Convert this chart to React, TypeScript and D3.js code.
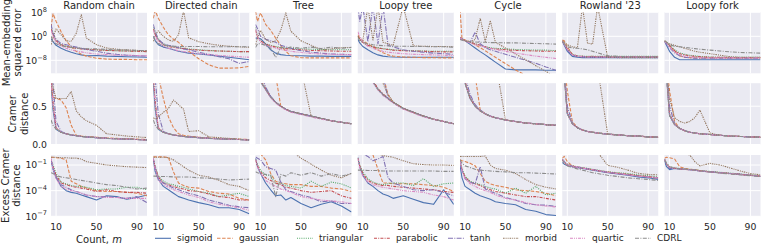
import React from 'react';
import * as d3 from 'd3';

// ---------------- data ----------------
const counts = [5, 7, 10, 15, 20, 25, 30, 35, 40, 50, 60, 70, 80, 90, 100];
const seriesNames = ['sigmoid', 'gaussian', 'triangular', 'parabolic', 'tanh', 'morbid', 'quartic', 'CDRL'];
const panelTitles = ['Random chain', 'Directed chain', 'Tree', 'Loopy tree', 'Cycle', "Rowland '23", 'Loopy fork'];
const xTicks = [10, 50, 90];
const mseTickExps = [8, 0, -8];
const cramerTicks = [0.0, 0.5];
const excessTickExps = [-1, -4, -7];

// Row 1: mean-embedding squared error (log10 of value), series order = seriesNames
const mseRandomChain = [
  [-0.8, -1.8, -3, -4, -4.7, -5.3, -5.8, -6.2, -6.5, -6.4, -6.6, -6.7, -6.8, -6.9, -7],
  [3, 7.5, 5, 1.5, -1.5, -3.5, -5, -6, -6.6, -7.3, -7.6, -7.7, -7.7, -7.8, -7.8],
  [3, 1, -1.5, -2.8, -3.3, -3.6, -3.9, -4.1, -4.3, -4.5, -4.7, -4.8, -4.9, -5, -5.1],
  [2.5, 0.5, -1.5, -2.8, -3.4, -3.7, -4, -4.2, -4.3, -4.5, -4.7, -4.8, -4.9, -5, -5.1],
  [4, 1, -1, -2.4, -2.8, -3.2, -3.6, -4, -4.4, -5, -5.6, -6, -6.3, -6.5, -6.6],
  [-2.8, -0.5, 2.5, 0.5, -1.5, -1.7, 1, 7.2, -0.6, -2.8, -3.9, -4.3, -4.5, -4.7, -4.8],
  [2, 0, -2, -3.3, -4, -4.5, -4.9, -5.2, -5.5, -5.9, -6.1, -6.3, -6.3, -6.4, -6.5],
  [0, -1.5, -2.5, -3.2, -3.5, -3.7, -3.9, -4, -4.1, -4.2, -4.4, -4.5, -4.6, -4.7, -4.8],
];
const mseDirectedChain = [
  [0, -1.5, -2.8, -3.6, -4, -4.5, -5, -5.3, -5.6, -5.9, -6.2, -6.6, -7, -7.4, -7.8],
  [6, 8.5, 6, 3, 0.5, -1, -2, -3.5, -5, -7.5, -9.5, -10.6, -10.6, -10.5, -10],
  [3, 1, -1, -2.6, -3.2, -3.5, -3.8, -4, -4.2, -4.5, -4.7, -4.9, -5, -5.1, -5.1],
  [2.5, 0.5, -1.2, -2.8, -3.4, -3.7, -3.9, -4.1, -4.3, -4.6, -4.8, -4.9, -5, -5.1, -5.1],
  [4, 1.5, -1, -2.5, -3, -3.3, -3.8, -4.2, -4.5, -5.3, -6, -6.8, -7.5, -9, -8.4],
  [-1.7, 0.5, 1.8, 0, -1.2, -1.7, 0.5, 8.5, -0.5, -1.8, -2.5, -3, -3.3, -3.5, -3.7],
  [2, 0, -2, -3.3, -4, -4.4, -4.8, -5.1, -5.4, -5.8, -6.1, -6.4, -6.6, -6.8, -7],
  [0, -1.5, -2.5, -3, -3.2, -3.3, -3.4, -3.4, -3.4, -3.4, -3.5, -3.5, -3.5, -3.5, -3.5],
];
const mseTree = [
  [-0.6, -0.6, -0.8, -2.5, -4.5, -5.6, -6.1, -6.3, -6.4, -6.5, -6.6, -6.6, -6.7, -6.7, -6.7],
  [8.3, 5, 7.8, 4, 2, -0.6, -3, -5, -6.5, -7.1, -7.2, -7.2, -7.2, -7.2, -7.2],
  [3, 0, -1.5, -2.5, -3, -3.4, -3.7, -3.9, -4, -4.2, -4.3, -4.4, -4.5, -4.5, -4.5],
  [2, -0.5, -1.5, -2.6, -3.2, -3.6, -3.9, -4.1, -4.3, -4.5, -4.7, -4.8, -4.9, -5, -5],
  [3.9, 2.5, 0, -1, -1.5, -2, -3, -3.5, -4, -4.8, -5.3, -5.6, -5.9, -6, -6.1],
  [-2.8, -0.5, 2, -1, -2, -1.5, 2, 7.8, 1.7, -1.5, -3, -4.5, -4.2, -3.8, -3.7],
  [2.5, 0, -2, -3, -3.5, -4, -4.4, -4.7, -5, -5.4, -5.7, -5.9, -6, -6.1, -6.1],
  [-3.7, -2.5, -2.5, -3, -4, -7, -3.7, -4, -3.6, -4, -3.6, -4.1, -3.6, -4, -3.7],
];
const mseLoopyTree = [
  [-1, -2.2, -3.4, -4.5, -5.5, -6.2, -6.6, -6.8, -6.9, -7, -7, -7, -7, -7, -7],
  [0.5, -0.5, -1.5, -2.5, -3.5, -4.5, -5.5, -6.2, -6.6, -6.9, -7, -7.1, -7.1, -7.2, -7.2],
  [0, -1, -2, -3, -3.5, -3.8, -4.1, -4.3, -4.5, -4.7, -4.8, -4.9, -5, -5, -5],
  [0, -1, -2, -3, -3.5, -3.9, -4.2, -4.4, -4.6, -4.8, -4.9, -5, -5.1, -5.2, -5.2],
  [10, 5, 10, -1.8, 10, -2.5, 10, -3, -3.5, -4.5, -5, -5.3, -5.6, -5.8, -6],
  [0, -1, -1.5, 10, -1.5, 10, -2, -2.5, -3, 10, -3.2, -3.3, -3.4, -3.4, -3.5],
  [1.5, 0, -2, -3.3, -4, -4.6, -5, -5.3, -5.5, -5.8, -6, -6.1, -6.2, -6.3, -6.4],
  [-0.5, -1.5, -2, -2.5, -2.8, -3, -3.1, -3.2, -3.3, -3.3, -3.4, -3.4, -3.5, -3.5, -3.6],
];
const mseCycle = [
  [-0.3, -0.8, -1.5, -2.7, -3.9, -5.1, -6.2, -7.4, -8.6, -10.9, -11.2, -11.2, -11.2, -11.3, -11.3],
  [9, -1, -1.2, -1.8, -2.8, -3.8, -4.8, -5.9, -7, -9.1, -11.2, -13, -13, -13, -13],
  [-0.5, -1, -1.5, -2, -2.5, -3, -3.5, -3.8, -4, -4.2, -4.4, -4.5, -4.6, -4.6, -4.8],
  [-0.5, -1, -1.5, -2, -2.5, -3, -3.5, -4, -4.2, -4.5, -4.7, -4.8, -4.9, -5, -5],
  [-0.5, -1, -1.5, -2, 1.4, -2.5, -3.8, -4.5, -5, -6, -7, -8, -9, -10.2, -11.3],
  [-0.5, -1, -1.5, -2, -1, 6, -1.7, 5.2, -2, -3.9, -5.9, -7.8, -9.8, -11.7, -13.6],
  [-0.5, -1, -1.6, -2.2, -2.8, -3.2, -3.6, -4, -4.4, -5, -5.6, -6.1, -6.6, -7, -7.4],
  [-1, -1.3, -1.6, -1.8, -1.9, -2, -2, -2.1, -2.1, -2.2, -2.2, -2.3, -2.4, -2.5, -2.6],
];
const mseRowland = [
  [-1.5, -3, -5, -6.7, -7, -7.1, -7.1, -7.1, -7.1, -7.1, -7.1, -7.1, -7.1, -7.1, -7.1],
  [-1.2, -1.5, -3.5, -6, -6.6, -6.8, -6.8, -6.7, -6.8, -6.8, -6.8, -6.8, -6.8, -6.8, -6.8],
  [-1.6, -2.5, -4, -6, -6.5, -6.6, -6.7, -6.7, -6.7, -6.7, -6.7, -6.7, -6.7, -6.7, -6.7],
  [-1.7, -2.6, -4.2, -6.1, -6.6, -6.7, -6.8, -6.8, -6.8, -6.8, -6.8, -6.8, -6.8, -6.8, -6.8],
  [-1.8, -2.8, -4.5, -6.3, -6.7, -6.8, -6.9, -6.9, -6.9, -6.9, -6.9, -6.9, -6.9, -6.9, -6.9],
  [-1.5, -2, -2.8, -3.5, -3.8, 10, -2.3, -2.6, 10, -7, -7.1, -7.1, -7.1, -7.1, -7.1],
  [-1.6, -2.7, -4.3, -6.2, -6.6, -6.8, -6.9, -6.9, -6.9, -6.9, -6.9, -6.9, -6.9, -6.9, -6.9],
  [-1.7, -2.5, -3.5, -3.9, -4, -4.2, -4.5, -5, -5.5, -6.5, -6.7, -6.8, -6.8, -6.8, -6.8],
];
const mseLoopyFork = [
  [-1.7, -3, -5, -7, -7.8, -7.8, -7.8, -7.8, -7.8, -7.8, -7.8, -7.8, -7.8, -7.8, -7.8],
  [-1.5, -2, -3, -5, -6.5, -7, -7.1, -7.2, -7.2, -7.2, -7.2, -7.2, -7.2, -7.2, -7.2],
  [-1.5, -2, -3, -4.5, -5.5, -6, -6.3, -6.5, -6.7, -6.9, -7, -7, -7, -7, -7],
  [-1.6, -2.2, -3.2, -4.8, -5.8, -6.2, -6.5, -6.7, -6.8, -7, -7, -7.1, -7.1, -7.1, -7.1],
  [-1.7, -2.5, -3.8, -5.5, -6.5, -7, -7.2, -7.3, -7.3, -7.3, -7.3, -7.3, -7.3, -7.3, -7.3],
  [-1.7, -2, -2.5, -3, -3.5, -4, -4.5, -5, -5.3, -5.8, -6.3, -6.8, -7, -7, -7],
  [-1.6, -2.4, -3.6, -5.2, -6.2, -6.6, -6.9, -7, -7.1, -7.2, -7.2, -7.2, -7.2, -7.2, -7.2],
  [-1.5, -2, -2.8, -3.3, -3.5, -3.7, -3.9, -4.1, -4.3, -4.6, -4.9, -5.2, -5.4, -5.5, -5.6],
];

// Row 2: Cramer distance
const cramerRandomChain = [
  [0.8, 0.45, 0.2, 0.16, 0.14, 0.125, 0.115, 0.105, 0.1, 0.09, 0.08, 0.075, 0.07, 0.065, 0.06],
  [0.75, 0.62, 0.6, 0.58, 0.48, 0.25, 0.12, 0.11, 0.105, 0.095, 0.085, 0.08, 0.075, 0.07, 0.065],
  [0.85, 0.5, 0.21, 0.16, 0.14, 0.125, 0.115, 0.105, 0.1, 0.09, 0.08, 0.075, 0.07, 0.065, 0.06],
  [0.9, 0.55, 0.22, 0.16, 0.14, 0.125, 0.115, 0.105, 0.1, 0.09, 0.08, 0.075, 0.07, 0.065, 0.06],
  [0.95, 0.8, 0.3, 0.17, 0.14, 0.125, 0.115, 0.105, 0.1, 0.09, 0.08, 0.075, 0.07, 0.065, 0.06],
  [0.9, 0.75, 0.6, 0.6, 0.6, 0.69, 0.44, 0.36, 0.31, 0.25, 0.14, 0.125, 0.11, 0.1, 0.09],
  [0.85, 0.5, 0.21, 0.16, 0.14, 0.125, 0.115, 0.105, 0.1, 0.09, 0.08, 0.075, 0.07, 0.065, 0.06],
  [0.32, 0.25, 0.2, 0.16, 0.14, 0.125, 0.115, 0.105, 0.1, 0.09, 0.08, 0.075, 0.07, 0.065, 0.06],
];
const cramerDirectedChain = [
  [0.8, 0.45, 0.2, 0.16, 0.14, 0.125, 0.115, 0.105, 0.1, 0.09, 0.08, 0.075, 0.07, 0.065, 0.06],
  [1.0, 1.0, 0.9, 0.6, 0.36, 0.22, 0.14, 0.12, 0.11, 0.095, 0.085, 0.08, 0.075, 0.07, 0.065],
  [0.85, 0.5, 0.21, 0.16, 0.14, 0.125, 0.115, 0.105, 0.1, 0.09, 0.08, 0.075, 0.07, 0.065, 0.06],
  [0.9, 0.55, 0.22, 0.16, 0.14, 0.125, 0.115, 0.105, 0.1, 0.09, 0.08, 0.075, 0.07, 0.065, 0.06],
  [0.95, 0.85, 0.4, 0.17, 0.14, 0.125, 0.115, 0.105, 0.1, 0.09, 0.08, 0.075, 0.07, 0.065, 0.06],
  [0.35, 0.33, 0.36, 0.42, 0.47, 0.58, 0.52, 0.46, 0.17, 0.18, 0.1, 0.09, 0.08, 0.07, 0.06],
  [0.85, 0.5, 0.21, 0.16, 0.14, 0.125, 0.115, 0.105, 0.1, 0.09, 0.08, 0.075, 0.07, 0.065, 0.06],
  [0.32, 0.25, 0.2, 0.16, 0.14, 0.125, 0.115, 0.105, 0.1, 0.09, 0.08, 0.075, 0.07, 0.065, 0.06],
];
const cramerTree = [
  [1.4, 1.1, 0.82, 0.72, 0.62, 0.55, 0.5, 0.46, 0.43, 0.4, 0.37, 0.34, 0.31, 0.29, 0.27],
  [1.4, 1.3, 1.2, 1.1, 1.0, 0.9, 0.5, 0.46, 0.43, 0.4, 0.37, 0.34, 0.31, 0.29, 0.27],
  [1.4, 1.1, 0.83, 0.72, 0.62, 0.55, 0.5, 0.46, 0.43, 0.4, 0.37, 0.34, 0.31, 0.29, 0.27],
  [1.4, 1.15, 0.85, 0.73, 0.62, 0.55, 0.5, 0.46, 0.43, 0.4, 0.37, 0.34, 0.31, 0.29, 0.27],
  [1.4, 1.2, 0.95, 0.75, 0.63, 0.55, 0.5, 0.46, 0.43, 0.4, 0.37, 0.34, 0.31, 0.29, 0.27],
  [1.4, 1.3, 1.2, 1.2, 1.2, 1.2, 1.2, 1.2, 1.2, 1.0, 0.37, 0.34, 0.31, 0.29, 0.27],
  [1.4, 1.1, 0.82, 0.71, 0.61, 0.54, 0.49, 0.45, 0.42, 0.39, 0.36, 0.33, 0.31, 0.29, 0.27],
  [1.4, 1.1, 0.82, 0.72, 0.62, 0.55, 0.5, 0.46, 0.43, 0.4, 0.37, 0.34, 0.31, 0.29, 0.27],
];
const cramerLoopyTree = [
  [1.4, 1.25, 1.05, 0.92, 0.82, 0.72, 0.65, 0.6, 0.55, 0.47, 0.42, 0.37, 0.33, 0.3, 0.27],
  [1.4, 1.4, 1.3, 1.2, 1.1, 1.0, 0.9, 0.65, 0.55, 0.47, 0.42, 0.37, 0.33, 0.3, 0.27],
  [1.4, 1.25, 1.05, 0.92, 0.82, 0.72, 0.65, 0.6, 0.55, 0.47, 0.42, 0.37, 0.33, 0.3, 0.27],
  [1.4, 1.25, 1.05, 0.92, 0.83, 0.73, 0.66, 0.6, 0.55, 0.47, 0.42, 0.37, 0.33, 0.3, 0.27],
  [1.4, 1.4, 1.3, 1.2, 1.1, 1.0, 0.9, 0.6, 0.55, 0.47, 0.42, 0.37, 0.33, 0.3, 0.27],
  [1.4, 1.3, 1.2, 1.1, 1.0, 0.9, 0.8, 0.65, 0.56, 0.47, 0.42, 0.37, 0.33, 0.3, 0.27],
  [1.4, 1.25, 1.05, 0.91, 0.81, 0.71, 0.64, 0.59, 0.54, 0.46, 0.41, 0.36, 0.33, 0.3, 0.27],
  [1.4, 1.25, 1.05, 0.92, 0.82, 0.72, 0.65, 0.6, 0.55, 0.47, 0.42, 0.37, 0.33, 0.3, 0.27],
];
const cramerCycle = [
  [1.3, 1.0, 0.8, 0.6, 0.5, 0.44, 0.4, 0.37, 0.35, 0.32, 0.3, 0.28, 0.27, 0.26, 0.25],
  [1.3, 1.2, 1.1, 1.0, 0.9, 0.45, 0.4, 0.37, 0.35, 0.32, 0.3, 0.28, 0.27, 0.26, 0.25],
  [1.3, 1.0, 0.8, 0.6, 0.5, 0.44, 0.4, 0.37, 0.35, 0.32, 0.3, 0.28, 0.27, 0.26, 0.25],
  [1.3, 1.05, 0.82, 0.61, 0.5, 0.44, 0.4, 0.37, 0.35, 0.32, 0.3, 0.28, 0.27, 0.26, 0.25],
  [1.3, 1.1, 0.9, 0.65, 0.52, 0.45, 0.4, 0.37, 0.35, 0.32, 0.3, 0.28, 0.27, 0.26, 0.25],
  [1.3, 1.2, 1.1, 1.1, 1.1, 1.1, 1.1, 1.1, 1.1, 0.32, 0.3, 0.28, 0.27, 0.26, 0.25],
  [1.3, 1.0, 0.8, 0.6, 0.5, 0.44, 0.4, 0.37, 0.35, 0.32, 0.3, 0.28, 0.27, 0.26, 0.25],
  [1.3, 1.0, 0.8, 0.6, 0.5, 0.44, 0.4, 0.37, 0.35, 0.32, 0.3, 0.28, 0.27, 0.26, 0.25],
];
const cramerRowland = [
  [1.2, 0.9, 0.4, 0.27, 0.22, 0.19, 0.17, 0.16, 0.15, 0.135, 0.125, 0.115, 0.11, 0.1, 0.095],
  [1.2, 1.1, 0.7, 0.3, 0.22, 0.19, 0.17, 0.16, 0.15, 0.135, 0.125, 0.115, 0.11, 0.1, 0.095],
  [1.2, 0.9, 0.4, 0.27, 0.22, 0.19, 0.17, 0.16, 0.15, 0.135, 0.125, 0.115, 0.11, 0.1, 0.095],
  [1.2, 0.95, 0.42, 0.27, 0.22, 0.19, 0.17, 0.16, 0.15, 0.135, 0.125, 0.115, 0.11, 0.1, 0.095],
  [1.2, 1.0, 0.5, 0.28, 0.22, 0.19, 0.17, 0.16, 0.15, 0.135, 0.125, 0.115, 0.11, 0.1, 0.095],
  [1.2, 1.1, 1.0, 1.0, 1.0, 1.0, 1.0, 1.0, 1.0, 0.135, 0.125, 0.115, 0.11, 0.1, 0.095],
  [1.2, 0.9, 0.4, 0.27, 0.22, 0.19, 0.17, 0.16, 0.15, 0.135, 0.125, 0.115, 0.11, 0.1, 0.095],
  [1.2, 0.9, 0.4, 0.27, 0.22, 0.19, 0.17, 0.16, 0.15, 0.135, 0.125, 0.115, 0.11, 0.1, 0.095],
];
const cramerLoopyFork = [
  [1.2, 0.9, 0.38, 0.26, 0.21, 0.18, 0.16, 0.15, 0.14, 0.13, 0.12, 0.11, 0.105, 0.1, 0.095],
  [1.2, 1.1, 0.7, 0.3, 0.21, 0.18, 0.16, 0.15, 0.14, 0.13, 0.12, 0.11, 0.105, 0.1, 0.095],
  [1.2, 0.9, 0.38, 0.26, 0.21, 0.18, 0.16, 0.15, 0.14, 0.13, 0.12, 0.11, 0.105, 0.1, 0.095],
  [1.2, 0.95, 0.4, 0.26, 0.21, 0.18, 0.16, 0.15, 0.14, 0.13, 0.12, 0.11, 0.105, 0.1, 0.095],
  [1.2, 1.0, 0.5, 0.27, 0.21, 0.18, 0.16, 0.15, 0.14, 0.13, 0.12, 0.11, 0.105, 0.1, 0.095],
  [1.2, 1.0, 0.6, 0.35, 0.3, 0.28, 0.3, 0.35, 0.45, 0.15, 0.12, 0.11, 0.105, 0.1, 0.095],
  [1.2, 0.9, 0.38, 0.26, 0.21, 0.18, 0.16, 0.15, 0.14, 0.13, 0.12, 0.11, 0.105, 0.1, 0.095],
  [1.2, 0.9, 0.38, 0.26, 0.21, 0.18, 0.16, 0.15, 0.14, 0.13, 0.12, 0.11, 0.105, 0.1, 0.095],
];

// Row 3: excess Cramer distance (log10 of value)
const excessRandomChain = [
  [-0.4, -1.5, -2.4, -3.5, -4, -4.2, -4.3, -4.5, -4.7, -5.1, -4.6, -4.7, -5, -4.8, -4.5],
  [-0.1, -0.1, -0.15, -0.2, -0.4, -2.9, -3.2, -3.5, -3.7, -4, -4.1, -4.1, -4.2, -4.3, -4.6],
  [-0.4, -1, -2, -3, -3.2, -3.4, -3.5, -3.5, -3.6, -3.9, -3.8, -3.8, -3.6, -3.6, -3.9],
  [-0.4, -1.2, -2.2, -3.1, -3.3, -3.5, -3.6, -3.7, -3.8, -4.1, -3.9, -4.1, -4.2, -4.2, -4.3],
  [-0.4, -1.3, -2.5, -3.3, -3.6, -3.9, -4.1, -4.3, -4.5, -4.7, -4.7, -4.8, -4.9, -4.7, -5.4],
  [-0.1, -0.1, -0.1, -0.15, -0.15, -0.2, -0.2, -0.3, -0.6, -0.8, -1, -1.1, -1.2, -1.25, -1.3],
  [-0.2, -1.4, -2.6, -3.5, -3.8, -4, -4.1, -4.3, -4.5, -4.7, -4.8, -4.8, -4.9, -4.9, -4.9],
  [-1.9, -2, -2.2, -2.4, -2.5, -2.6, -2.7, -2.8, -2.9, -3.1, -3.3, -3.4, -3.6, -3.8, -3.7],
];
const excessDirectedChain = [
  [-0.4, -1.8, -2.7, -3.5, -3.9, -4.3, -4.7, -4.9, -5.1, -5.4, -5.65, -6, -6, -6.2, -6.7],
  [-0.05, -0.05, -0.05, -0.05, -0.1, -1.8, -3.1, -3.4, -3.6, -3.7, -4.1, -4.3, -4.4, -4.9, -5.1],
  [-0.3, -1.2, -2.3, -2.9, -3.2, -3.3, -3.5, -3.6, -3.8, -4.1, -4.3, -4.7, -4.5, -4.3, -4.7],
  [-0.3, -1.3, -2.4, -3.1, -3.3, -3.5, -3.7, -3.8, -4, -4.1, -4.4, -4.7, -4.8, -5.1, -5.1],
  [-0.2, -1.4, -2.6, -3.1, -3.4, -3.7, -3.9, -4.1, -4.3, -4.6, -5.1, -5.4, -5.7, -5.9, -6],
  [-0.1, -0.1, -0.1, -0.1, -0.15, -0.4, -0.8, -1.2, -1.6, -2.2, -2.4, -2.8, -3.3, -3.5, -4],
  [-0.2, -1.5, -2.8, -3.3, -3.6, -3.9, -4.1, -4.3, -4.5, -4.8, -5.3, -5.6, -5.8, -6, -6.3],
  [-2.3, -2.3, -2.35, -2.35, -2.35, -2.4, -2.4, -2.4, -2.4, -2.5, -2.55, -2.65, -2.75, -2.7, -2.65],
];
const excessTree = [
  [-0.2, -1.2, -2, -3.1, -3.9, -4.6, -4.5, -5.1, -4.8, -5.5, -6, -5.6, -5.3, -5.8, -6.5],
  [0.5, 0.5, 0.3, -0.4, -2, -2.9, -3.1, -3.2, -3.3, -3.3, -3.5, -3.5, -3.7, -3.8, -4.1],
  [-0.3, -1, -1.6, -2.2, -2.2, -3.2, -3.1, -3.4, -3.5, -3.7, -2.9, -3.5, -3, -3.2, -3.7],
  [-0.4, -1.1, -1.8, -2.5, -2.8, -3.1, -3.3, -3.6, -3.7, -4, -4.2, -4.1, -4, -4.6, -4.9],
  [-0.05, -0.2, -0.4, -1.2, -1.4, -1.6, -3, -3.9, -4.1, -4.5, -4.8, -5.3, -5.2, -5.5, -5.5],
  [1, 1, 1, 1, 1, 1, 1, 1, 0.7, -0.2, -0.9, -1.6, -2.2, -2.5, -1.97],
  [-0.3, -1.2, -2, -2.8, -3.2, -3.5, -3.8, -4, -4.2, -4.7, -4.9, -5.1, -5.2, -5.3, -5.5],
  [-1.8, -1.9, -2, -2.1, -2.2, -4.7, -2.1, -2.3, -1.9, -2.2, -1.9, -2.3, -2, -2.3, -2],
];
const excessLoopyTree = [
  [-0.1, -1.2, -2.2, -3.1, -3.5, -4, -4.4, -4.6, -4.9, -4.6, -5, -5.4, -5.6, -3.9, -5.6],
  [0.5, 0.5, 0.5, 0.4, 0.2, -1.5, -3.1, -3.1, -3.2, -3.2, -3.2, -3.3, -3.4, -3.6, -4.1],
  [-0.2, -1, -1.8, -2.6, -3, -3.2, -3.3, -3.2, -3.1, -3.1, -3.4, -2.6, -3.5, -3.2, -3.1],
  [-0.2, -1.1, -2, -2.8, -3.1, -3.3, -3.4, -3.4, -3.5, -3.6, -3.7, -3.8, -3.9, -4.1, -4.2],
  [0.5, 0.5, 0.3, 0, -0.5, -0.3, 0, -2.5, -3.1, -3.5, -3.9, -4, -3.9, -4.2, -4.6],
  [0.5, 0.5, 0.5, 0.5, 0.5, 0.3, 0.1, 0, -0.1, -0.5, -0.85, -0.95, -1, -1, -1.05],
  [-0.2, -1.3, -2.3, -3, -3.3, -3.5, -3.6, -3.7, -3.8, -4, -4.1, -4.2, -4.5, -4.7, -5.1],
  [-1.6, -1.6, -1.6, -1.65, -1.65, -1.65, -1.7, -1.7, -1.7, -1.7, -1.7, -1.7, -1.7, -1.75, -1.75],
];
const excessCycle = [
  [-1, -2.5, -3.5, -3.9, -4.3, -4.6, -4.8, -5, -5.3, -5.5, -5.65, -6.2, -6.4, -6.8, -6.9],
  [-0.4, -0.5, -0.6, -0.8, -1.1, -2, -2.9, -3.2, -3.4, -3.6, -3.9, -4, -4.1, -4.3, -4.6],
  [-0.5, -1.5, -2.3, -2.9, -3.1, -3.3, -3.5, -3.7, -3.8, -4.3, -3.7, -4.3, -3.5, -4.5, -4.3],
  [-0.5, -1.6, -2.4, -3, -3.2, -3.4, -3.7, -3.9, -4.1, -4.3, -4.5, -4.7, -4.7, -4.9, -5.1],
  [-0.4, -1.6, -2.6, -3, -3.2, -1.2, -3.8, -4.1, -4.3, -4.8, -5.1, -5.5, -5.65, -5.7, -5.85],
  [0, 0, 0, 0, 0, 0, 0.05, -1, -1.4, -1.6, -2, -2.7, -3.3, -3.6, -3.8],
  [-0.5, -1.7, -2.6, -3.2, -3.5, -3.8, -4, -4.2, -4.5, -4.9, -5.1, -5.4, -5.65, -5.8, -5.9],
  [-0.4, -0.8, -1.1, -1.3, -1.5, -1.6, -1.65, -1.7, -1.75, -1.8, -1.9, -1.9, -1.95, -2, -2.05],
];
const excessRowland = [
  [-0.7, -0.9, -1.05, -1.2, -1.3, -1.4, -1.5, -1.6, -1.7, -1.9, -2.05, -2.2, -2.4, -2.5, -2.7],
  [-0.2, 0, -0.6, -1.1, -1.25, -1.35, -1.45, -1.55, -1.65, -1.8, -1.95, -2.1, -2.25, -2.4, -2.55],
  [-0.3, -0.6, -0.9, -1.1, -1.2, -1.3, -1.4, -1.5, -1.6, -1.8, -1.9, -2, -2.15, -2.25, -2.4],
  [-0.4, -0.7, -1, -1.15, -1.25, -1.35, -1.45, -1.55, -1.65, -1.85, -2, -2.1, -2.25, -2.35, -2.5],
  [-0.3, -0.6, -0.95, -1.15, -1.25, -1.35, -1.45, -1.55, -1.65, -1.85, -2, -2.15, -2.3, -2.4, -2.55],
  [0.3, 0.3, 0.3, 0.3, 0.3, 0.3, 0.3, 0.5, 0.5, -1.05, -1.27, -1.6, -1.97, -2.1, -2.16],
  [-0.3, -0.65, -1, -1.15, -1.25, -1.35, -1.45, -1.55, -1.65, -1.85, -2, -2.15, -2.3, -2.4, -2.5],
  [-0.4, -0.8, -1.1, -1.3, -1.45, -1.6, -1.75, -1.9, -2, -2.2, -2.35, -2.5, -2.6, -2.7, -2.8],
];
const excessLoopyFork = [
  [-0.5, -1.2, -1.55, -1.4, -1.45, -1.5, -1.55, -1.6, -1.7, -1.8, -1.9, -2, -2.1, -2.2, -2.35],
  [-0.2, -0.1, -0.15, -0.3, -1.2, -1.4, -1.5, -1.55, -1.65, -1.8, -1.9, -2, -2.1, -2.2, -2.3],
  [-0.3, -0.8, -1.2, -1.35, -1.4, -1.45, -1.5, -1.55, -1.65, -1.75, -1.85, -1.95, -2.05, -2.15, -2.25],
  [-0.4, -0.9, -1.3, -1.4, -1.45, -1.5, -1.55, -1.6, -1.7, -1.8, -1.9, -2, -2.1, -2.2, -2.3],
  [-0.3, -0.9, -1.4, -1.4, -1.45, -1.5, -1.55, -1.6, -1.7, -1.8, -1.9, -2, -2.1, -2.2, -2.3],
  [0.5, 0.5, 0.5, 0.5, 0.5, 0.3, 0.16, -0.6, -1.1, -0.81, -1, -1.35, -1.7, -2, -2.15],
  [-0.3, -0.85, -1.25, -1.35, -1.45, -1.5, -1.55, -1.6, -1.7, -1.8, -1.9, -2, -2.1, -2.2, -2.3],
  [-0.4, -0.8, -1.2, -1.35, -1.45, -1.5, -1.55, -1.6, -1.7, -1.8, -1.95, -2.05, -2.15, -2.25, -2.35],
];

const mseData = [mseRandomChain, mseDirectedChain, mseTree, mseLoopyTree, mseCycle, mseRowland, mseLoopyFork];
const cramerData = [cramerRandomChain, cramerDirectedChain, cramerTree, cramerLoopyTree, cramerCycle, cramerRowland, cramerLoopyFork];
const excessData = [excessRandomChain, excessDirectedChain, excessTree, excessLoopyTree, excessCycle, excessRowland, excessLoopyFork];

// ---------------- style / layout ----------------
const seriesColors = ['#4C72B0', '#DD8452', '#55A868', '#C44E52', '#8172B3', '#937860', '#DA8BC3', '#8C8C8C'];
const seriesDashes = [null, '3.5,1.6', '1,1.2', '3,1.2,1,1.2', '5,1.3,1,1.3', '1.6,1,1,1,1,1', '3,1,1,1,1,1', '4,1.4,1,1.4'];
const legendSlots = [155, 217, 297, 374, 448, 503, 570, 635];
const FONT = '"DejaVu Sans", sans-serif';
const TXT = '#262626';
const BG = '#EAEAF2';

const W = 761, H = 248;
const left0 = 51, pitch = 102.25, pw = 96, ph = 61.3;
const rowTops = [12, 83.2, 155];

export default function App() {
  const x = d3.scaleLinear().domain([5, 100]).range([0, pw]);
  const yMse = d3.scaleLog().domain([Math.pow(10, -12.33), Math.pow(10, 8.1)]).range([ph, 0]);
  const yCr = d3.scaleLinear().domain([0, 0.8]).range([ph, 0]);
  const yEx = d3.scaleLog().domain([Math.pow(10, -7.0), Math.pow(10, 0.17)]).range([ph, 0]);

  const rows = [
    { data: mseData, y: yMse, log: true, ticks: mseTickExps.map(e => Math.pow(10, e)), tickExps: mseTickExps },
    { data: cramerData, y: yCr, log: false, ticks: cramerTicks, tickExps: null },
    { data: excessData, y: yEx, log: true, ticks: excessTickExps.map(e => Math.pow(10, e)), tickExps: excessTickExps },
  ];

  const yLabels = [
    { lines: ['Mean-embedding', 'squared error'], xs: [6, 17.5] },
    { lines: ['Cramer', 'distance'], xs: [12.5, 24] },
    { lines: ['Excess Cramer', 'distance'], xs: [5, 16.5] },
  ];

  const legFont = 9;

  return (
    <svg width={W} height={H} viewBox={`0 0 ${W} ${H}`} style={{ display: 'block', position: 'absolute', left: 0, top: 0 }} fontFamily={FONT}>
      <defs>
        <clipPath id="panelClip"><rect x={0} y={0} width={pw} height={ph} /></clipPath>
      </defs>
      <rect x={0} y={0} width={W} height={H} fill="#ffffff" />
      {rows.map((row, r) => (
        <g key={r}>
          {panelTitles.map((title, c) => {
            const tx = left0 + c * pitch;
            const ty = rowTops[r];
            return (
              <g key={c} transform={`translate(${tx},${ty})`}>
                <rect x={0} y={0} width={pw} height={ph} fill={BG} />
                {xTicks.map(t => (
                  <line key={'vx' + t} x1={x(t)} x2={x(t)} y1={0} y2={ph} stroke="#fff" strokeWidth={1} />
                ))}
                {row.ticks.map((t, k) => (
                  <line key={'hy' + k} x1={0} x2={pw} y1={row.y(t)} y2={row.y(t)} stroke="#fff" strokeWidth={1} />
                ))}
                <g clipPath="url(#panelClip)">
                  {row.data[c].map((vals, s) => {
                    const line = d3.line<number>()
                      .x((_, i) => x(counts[i]))
                      .y(v => row.y(row.log ? Math.pow(10, v) : v));
                    return (
                      <path key={s} d={line(vals) || ''} fill="none" stroke={seriesColors[s]} strokeWidth={1.1}
                        strokeDasharray={seriesDashes[s] || undefined} strokeLinejoin="round" />
                    );
                  })}
                </g>
                {r === 0 && (
                  <text x={pw / 2} y={-3} textAnchor="middle" fontSize={10} fill={TXT}>{title}</text>
                )}
                {r === 2 && xTicks.map(t => (
                  <text key={'xt' + t} x={x(t)} y={ph + 13.8} textAnchor="middle" fontSize={9.3} fill={TXT}>{t}</text>
                ))}
                {c === 0 && row.ticks.map((t, k) => (
                  <text key={'yt' + k} x={-4} y={row.y(t) + 3.4} textAnchor="end" fontSize={9.3} fill={TXT}>
                    {row.tickExps ? (
                      <>
                        {'10'}
                        <tspan dy={-4.2} fontSize={6.6}>{row.tickExps[k] < 0 ? '\u2212' + Math.abs(row.tickExps[k]) : String(row.tickExps[k])}</tspan>
                      </>
                    ) : d3.format('.1f')(t)}
                  </text>
                ))}
              </g>
            );
          })}
          {yLabels[r].lines.map((ln, k) => (
            <text key={k} transform={`translate(${yLabels[r].xs[k]},${rowTops[r] + ph / 2}) rotate(-90)`}
              textAnchor="middle" dominantBaseline="central" fontSize={10} fill={TXT}>{ln}</text>
          ))}
        </g>
      ))}
      <text x={left0 + pw / 2} y={243} textAnchor="middle" fontSize={10} fill={TXT}>
        {'Count, '}<tspan fontStyle="italic">m</tspan>
      </text>
      {seriesNames.map((n, i) => (
        <g key={n}>
          <line x1={legendSlots[i]} x2={legendSlots[i] + 16} y1={238.3} y2={238.3} stroke={seriesColors[i]} strokeWidth={1.1}
            strokeDasharray={seriesDashes[i] || undefined} />
          <text x={legendSlots[i] + 22} y={241.4} fontSize={legFont} fill={TXT}>{n}</text>
        </g>
      ))}
    </svg>
  );
}
